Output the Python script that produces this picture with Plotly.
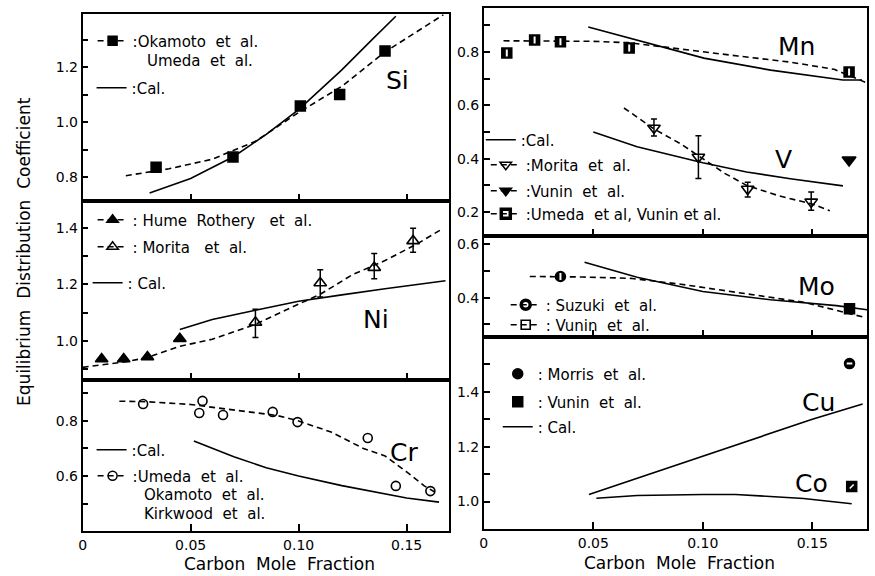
import plotly.graph_objects as go

# ---------------- data ----------------
# Si panel
si_exp_x = [0.034, 0.0696, 0.1008, 0.119, 0.140]
si_exp_y = [0.836, 0.873, 1.058, 1.10, 1.258]
si_fit_x = [0.02, 0.04, 0.06, 0.08, 0.10, 0.12, 0.14, 0.167]
si_fit_y = [0.805, 0.83, 0.865, 0.93, 1.035, 1.13, 1.255, 1.39]
si_cal_x = [0.031, 0.05, 0.07, 0.085, 0.10, 0.12, 0.134, 0.145]
si_cal_y = [0.742, 0.795, 0.875, 0.955, 1.045, 1.19, 1.30, 1.385]

# Ni panel
ni_hume_x = [0.0088, 0.019, 0.030, 0.045]
ni_hume_y = [0.935, 0.935, 0.942, 1.007]
ni_morita_x = [0.080, 0.110, 0.135, 0.153]
ni_morita_y = [1.065, 1.205, 1.26, 1.355]
ni_morita_eplus = [0.047, 0.047, 0.05, 0.045]
ni_morita_eminus = [0.054, 0.05, 0.04, 0.04]
ni_fit_x = [0.0, 0.02, 0.03, 0.045, 0.06, 0.08, 0.10, 0.11, 0.125, 0.14, 0.155, 0.167]
ni_fit_y = [0.905, 0.925, 0.94, 0.98, 1.005, 1.058, 1.13, 1.165, 1.235, 1.285, 1.345, 1.40]
ni_cal_x = [0.045, 0.06, 0.08, 0.10, 0.12, 0.14, 0.168]
ni_cal_y = [1.04, 1.075, 1.108, 1.14, 1.163, 1.185, 1.213]

# Cr panel
cr_exp_x = [0.028, 0.0555, 0.054, 0.065, 0.088, 0.0995, 0.132, 0.145, 0.161]
cr_exp_y = [0.862, 0.873, 0.829, 0.822, 0.833, 0.796, 0.738, 0.564, 0.545]
cr_fit_x = [0.017, 0.03, 0.05, 0.07, 0.09, 0.10, 0.115, 0.13, 0.14, 0.15, 0.158, 0.163]
cr_fit_y = [0.872, 0.87, 0.86, 0.84, 0.82, 0.80, 0.76, 0.70, 0.673, 0.615, 0.565, 0.542]
cr_cal_x = [0.0515, 0.07, 0.085, 0.10, 0.12, 0.134, 0.15, 0.165]
cr_cal_y = [0.727, 0.67, 0.63, 0.60, 0.565, 0.545, 0.52, 0.505]

# Mn / V panel
mn_exp_x = [0.0105, 0.0232, 0.035, 0.0664, 0.1668]
mn_exp_y = [0.796, 0.845, 0.838, 0.815, 0.725]
mn_fit_x = [0.009, 0.03, 0.05, 0.066, 0.09, 0.116, 0.14, 0.16, 0.175]
mn_fit_y = [0.842, 0.842, 0.84, 0.835, 0.81, 0.785, 0.762, 0.735, 0.684]
mn_cal_x = [0.0477, 0.075, 0.1005, 0.131, 0.164, 0.1727]
mn_cal_y = [0.894, 0.834, 0.777, 0.732, 0.695, 0.695]
v_morita_x = [0.0777, 0.098, 0.1205, 0.1495]
v_morita_y = [0.515, 0.406, 0.286, 0.238]
v_morita_eplus = [0.034, 0.08, 0.026, 0.037]
v_morita_eminus = [0.03, 0.08, 0.03, 0.031]
v_vunin_x = [0.1668]
v_vunin_y = [0.395]
v_fit_x = [0.064, 0.078, 0.09, 0.10, 0.11, 0.12, 0.135, 0.15, 0.158]
v_fit_y = [0.59, 0.51, 0.455, 0.40, 0.345, 0.30, 0.26, 0.23, 0.205]
v_cal_x = [0.05, 0.07, 0.085, 0.10, 0.12, 0.14, 0.164]
v_cal_y = [0.50, 0.445, 0.415, 0.385, 0.35, 0.325, 0.298]

# Mo panel
mo_suzuki_x = [0.035]
mo_suzuki_y = [0.479]
mo_vunin_x = [0.167]
mo_vunin_y = [0.358]
mo_fit_x = [0.021, 0.045, 0.067, 0.09, 0.116, 0.146, 0.173]
mo_fit_y = [0.479, 0.477, 0.472, 0.45, 0.419, 0.383, 0.328]
mo_cal_x = [0.046, 0.07, 0.10, 0.131, 0.161, 0.175]
mo_cal_y = [0.532, 0.476, 0.423, 0.392, 0.37, 0.355]

# Cu / Co panel
cu_morris_x = [0.167]
cu_morris_y = [1.503]
co_vunin_x = [0.168]
co_vunin_y = [1.055]
cu_cal_x = [0.048, 0.07, 0.10, 0.13, 0.15, 0.173]
cu_cal_y = [1.026, 1.085, 1.165, 1.245, 1.30, 1.356]
co_cal_x = [0.0514, 0.07, 0.10, 0.115, 0.146, 0.168]
co_cal_y = [1.012, 1.022, 1.026, 1.026, 1.011, 0.992]

x_tick_vals = [0, 0.05, 0.10, 0.15]
x_tick_text = ["0", "0.05", "0.10", "0.15"]

# ---------------- layout helpers ----------------
W, H = 875, 576
FONT = "DejaVu Sans"
BLACK = "black"
DASH = "6px,4px"
NB = "\u00a0"
LEG_SIZE = 15


def fx(px):
    return px / W


def fy(py):
    return 1 - py / H


panels = [
    # x px span, y px span, y range, major, minor, x max, x labels
    ((79, 447), (14, 201), (0.713, 1.393), [0.8, 1.0, 1.2], [0.9, 1.1, 1.3], 0.1696, False),
    ((79, 447), (201, 380), (0.86, 1.497), [1.0, 1.2, 1.4], [0.9, 1.1, 1.3], 0.1696, False),
    ((79, 447), (380, 531), (0.40, 0.949), [0.6, 0.8], [0.5, 0.7, 0.9], 0.1696, True),
    ((482, 867), (8, 236), (0.11, 0.965), [0.2, 0.4, 0.6, 0.8], [0.3, 0.5, 0.7, 0.9], 0.175, False),
    ((482, 867), (236, 337), (0.253, 0.63), [0.4, 0.6], [0.3, 0.5], 0.175, False),
    ((482, 867), (337, 529), (0.90, 1.60), [1.0, 1.2, 1.4], [1.1, 1.3, 1.5], 0.175, True),
]

layout = dict(
    width=W, height=H, margin=dict(l=0, r=0, t=0, b=0),
    paper_bgcolor="white", plot_bgcolor="white",
    font=dict(family=FONT, size=14, color=BLACK),
    showlegend=True,
)

LW = 1.6
for i, (xs, ys, yr, major, minor, xmax, xlab) in enumerate(panels, start=1):
    sfx = "" if i == 1 else str(i)
    layout["xaxis" + sfx] = dict(
        domain=[fx(xs[0]), fx(xs[1])], range=[0, xmax], anchor="y" + sfx,
        tickmode="array", tickvals=x_tick_vals, ticktext=x_tick_text,
        ticks="inside", ticklen=7, tickwidth=1.5, tickcolor=BLACK,
        showline=True, linewidth=LW, linecolor=BLACK, mirror=True,
        showgrid=False, zeroline=False, showticklabels=xlab,
        tickfont=dict(size=14, family=FONT),
    )
    layout["yaxis" + sfx] = dict(
        domain=[fy(ys[1]), fy(ys[0])], range=list(yr), anchor="x" + sfx,
        tickmode="array", tickvals=major, ticktext=[f"{v:.1f}" for v in major],
        ticks="inside", ticklen=6, tickwidth=1.5, tickcolor=BLACK,
        minor=dict(tickmode="array", tickvals=minor, ticks="inside", ticklen=6,
                   tickwidth=1.5, tickcolor=BLACK, showgrid=False),
        showline=True, linewidth=LW, linecolor=BLACK, mirror=True,
        showgrid=False, zeroline=False, tickfont=dict(size=14, family=FONT),
    )

fig = go.Figure()


def ax(i):
    sfx = "" if i == 1 else str(i)
    return dict(xaxis="x" + sfx, yaxis="y" + sfx)


def line_tr(i, x, y, dash=None, width=1.6):
    fig.add_trace(go.Scatter(x=x, y=y, mode="lines", showlegend=False, hoverinfo="skip",
                             line=dict(color=BLACK, width=width, dash=dash), **ax(i)))


def mark_tr(i, x, y, symbol, size=10, lw=1.5, eplus=None, eminus=None, color=BLACK):
    err = None
    if eplus is not None:
        err = dict(type="data", symmetric=False, array=eplus, arrayminus=eminus,
                   color=BLACK, thickness=1.5, width=3)
    fig.add_trace(go.Scatter(x=x, y=y, mode="markers", showlegend=False, error_y=err,
                             marker=dict(symbol=symbol, size=size, color=color,
                                         line=dict(color=color, width=lw)), **ax(i)))


legend_layouts = {}
legend_count = [0]


def legend_tr(i, name, text_x, item_y, dash=None, symbol=None, size=9, lw=1.5, mode=None):
    """One legend entry = one plotly legend, placed inside panel i."""
    legend_count[0] += 1
    k = legend_count[0]
    lname = "legend" if k == 1 else "legend" + str(k)
    if mode is None:
        mode = "lines+markers" if symbol else "lines"
    fig.add_trace(go.Scatter(
        x=[None], y=[None], mode=mode, name=name, legend=lname,
        line=dict(color=BLACK, width=1.6, dash=dash),
        marker=dict(symbol=symbol or "circle", size=size, color=BLACK,
                    line=dict(color=BLACK, width=lw)), **ax(i)))
    legend_layouts[lname] = dict(
        x=fx(text_x - 44), y=fy(item_y), xref="paper", yref="paper",
        xanchor="left", yanchor="middle", bgcolor="rgba(0,0,0,0)", borderwidth=0,
        font=dict(size=LEG_SIZE, family=FONT, color=BLACK), itemwidth=30,
    )


# Si
line_tr(1, si_fit_x, si_fit_y, DASH)
line_tr(1, si_cal_x, si_cal_y)
mark_tr(1, si_exp_x, si_exp_y, "square", 10)
legend_tr(1, ":Okamoto" + NB + " et" + NB + " al.", 133, 41, DASH, "square")
legend_tr(1, ":Cal.", 132, 88)

# Ni
line_tr(2, ni_fit_x, ni_fit_y, DASH)
line_tr(2, ni_cal_x, ni_cal_y)
mark_tr(2, ni_hume_x, ni_hume_y, "triangle-up", 11)
mark_tr(2, ni_morita_x, ni_morita_y, "triangle-up-open", 11, 1.6, ni_morita_eplus, ni_morita_eminus)
legend_tr(2, ": Hume" + NB * 2 + "Rothery" + NB * 3 + "et" + NB + " al.", 133, 220, DASH, "triangle-up", 10)
legend_tr(2, ": Morita" + NB + "  et" + NB + " al.", 133, 247, DASH, "triangle-up-open", 10)
legend_tr(2, ": Cal.", 128, 283)

# Cr
line_tr(3, cr_fit_x, cr_fit_y, DASH)
line_tr(3, cr_cal_x, cr_cal_y)
mark_tr(3, cr_exp_x, cr_exp_y, "circle-open", 9, 1.6)
legend_tr(3, ":Cal.", 132, 450)
legend_tr(3, ":Umeda" + NB + " et" + NB + " al.", 133, 476, DASH, "circle-open", 9)

# Mn / V
line_tr(4, mn_fit_x, mn_fit_y, DASH)
line_tr(4, mn_cal_x, mn_cal_y)
line_tr(4, v_fit_x, v_fit_y, DASH)
line_tr(4, v_cal_x, v_cal_y)
mark_tr(4, mn_exp_x, mn_exp_y, "square", 10)
mark_tr(4, mn_exp_x, mn_exp_y, "line-ns", 5, 2, color="white")
mark_tr(4, v_morita_x, v_morita_y, "triangle-down-open", 11, 1.6, v_morita_eplus, v_morita_eminus)
mark_tr(4, v_vunin_x, v_vunin_y, "triangle-down", 12)
legend_tr(4, ":Cal.", 523, 140)
legend_tr(4, ":Morita" + NB + " et" + NB + " al.", 528, 165, DASH, "triangle-down-open", 10)
legend_tr(4, ":Vunin" + NB + " et" + NB + " al.", 528, 191, DASH, "triangle-down", 10)
legend_tr(4, ":Umeda" + NB * 2 + "et" + NB + "al," + NB + "Vunin" + NB + "et" + NB + "al.",
          528, 214, DASH, "square-open", 9, 3.5)

# Mo
line_tr(5, mo_fit_x, mo_fit_y, DASH)
line_tr(5, mo_cal_x, mo_cal_y)
mark_tr(5, mo_suzuki_x, mo_suzuki_y, "circle", 10)
mark_tr(5, mo_suzuki_x, mo_suzuki_y, "line-ns", 5, 2, color="white")
mark_tr(5, mo_vunin_x, mo_vunin_y, "square", 10)
legend_tr(5, ": Suzuki" + NB + " et" + NB + " al.", 548, 305, DASH, "circle-open", 9, 3.5)
legend_tr(5, ": Vunin" + NB + " et" + NB + " al.", 548, 325, DASH, "square-open", 9, 1.6)

# Cu / Co
line_tr(6, cu_cal_x, cu_cal_y)
line_tr(6, co_cal_x, co_cal_y)
mark_tr(6, cu_morris_x, cu_morris_y, "circle", 10)
mark_tr(6, cu_morris_x, cu_morris_y, "line-ew", 4, 2, color="white")
mark_tr(6, co_vunin_x, co_vunin_y, "square", 10)
mark_tr(6, co_vunin_x, co_vunin_y, "line-ne", 4, 1.5, color="white")
legend_tr(6, ": Morris" + NB * 2 + "et" + NB + " al.", 540, 374, symbol="circle", size=10, mode="markers")
legend_tr(6, ": Vunin" + NB + " et" + NB + " al.", 540, 402, symbol="square", size=10, mode="markers")
legend_tr(6, ": Cal.", 540, 427)

layout.update(legend_layouts)

# element labels
labels = [
    (1, "Si", 0.1456, 1.153), (2, "Ni", 0.136, 1.076), (3, "Cr", 0.149, 0.687),
    (4, "Mn", 0.143, 0.819), (4, "V", 0.137, 0.395), (5, "Mo", 0.152, 0.442),
    (6, "Cu", 0.153, 1.363), (6, "Co", 0.1495, 1.066),
]
annotations = []
for i, t, x, y in labels:
    sfx = "" if i == 1 else str(i)
    annotations.append(dict(text=t, x=x, y=y, xref="x" + sfx, yref="y" + sfx,
                            showarrow=False, font=dict(size=25, family=FONT, color=BLACK)))

# continuation lines of multi-author legend entries
extra_texts = [
    ("Umeda" + NB + " et" + NB + " al.", 142, 61),
    ("Okamoto" + NB + " et" + NB + " al.", 139, 495),
    ("Kirkwood" + NB + " et" + NB + " al.", 139, 514),
]
for t, x, y in extra_texts:
    annotations.append(dict(text=t, x=fx(x), y=fy(y), xref="paper", yref="paper",
                            xanchor="left", yanchor="middle", showarrow=False,
                            font=dict(size=LEG_SIZE, family=FONT, color=BLACK)))

annotations.append(dict(text="Equilibrium" + NB * 2 + "Distribution" + NB * 2 + "Coefficient",
                        x=fx(20), y=fy(251), xref="paper", yref="paper", showarrow=False,
                        xanchor="center", yanchor="middle",
                        textangle=-90, font=dict(size=17, family=FONT, color=BLACK)))
for cx, cy in [(277, 564), (679, 563)]:
    annotations.append(dict(text="Carbon" + NB + " Mole" + NB + " Fraction", x=fx(cx), y=fy(cy),
                            xref="paper", yref="paper", showarrow=False,
                            xanchor="center", yanchor="middle",
                            font=dict(size=17, family=FONT, color=BLACK)))
layout["annotations"] = annotations

fig.update_layout(**layout)
fig.write_html("out.html")
